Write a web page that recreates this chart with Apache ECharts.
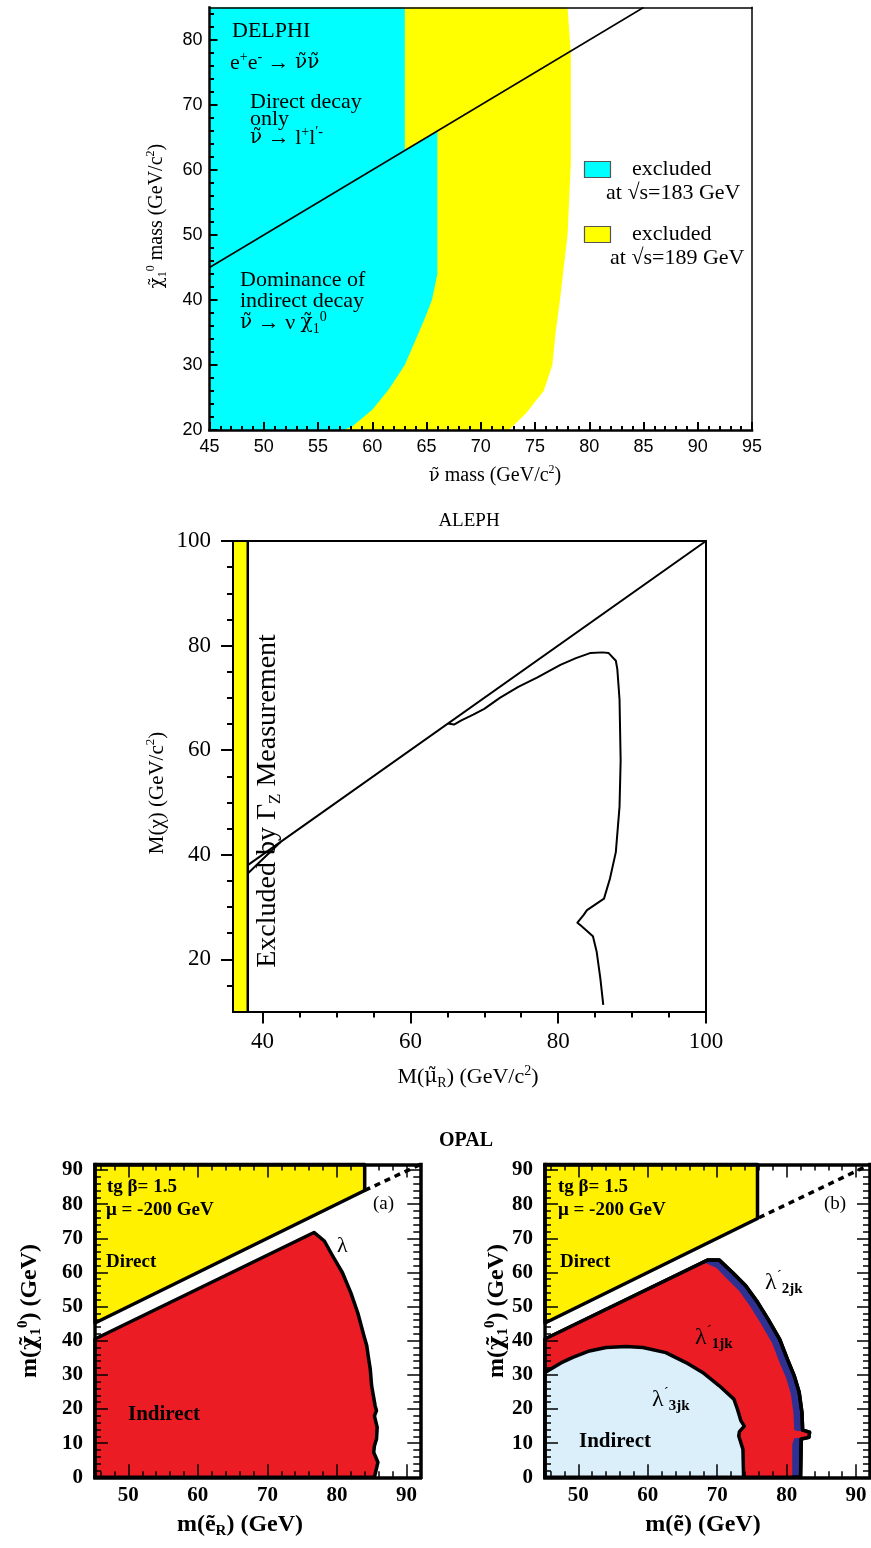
<!DOCTYPE html>
<html><head><meta charset="utf-8">
<script src="https://cdn.jsdelivr.net/npm/echarts@6/dist/echarts.min.js"></script>
<style>html,body{margin:0;padding:0;background:#fff}#c{width:871px;height:1548px}</style>
</head><body><div id="c"></div>
<script>
// ================= DATA =================
// --- DELPHI panel ---
const delphiXLabels = [45,50,55,60,65,70,75,80,85,90,95];
const delphiXMinor = [46,47,48,49,51,52,53,54,56,57,58,59,61,62,63,64,66,67,68,69,71,72,73,74,76,77,78,79,81,82,83,84,86,87,88,89,91,92,93,94];
const delphiYLabels = [20,30,40,50,60,70,80];
const delphiYMinor = [22,24,26,28,32,34,36,38,42,44,46,48,52,54,56,58,62,64,66,68,72,74,76,78,82,84];
const delphiDiagonal = [[45,45],[85,85]];
const delphiExcl183 = [[45,20],[45,85],[63,85],[63,63],[66,66],[66,44],[65.5,40],[64.8,37],[63,30],[61.5,26.2],[60,23.1],[58.2,20.6],[57.4,20]];
const delphiExcl189 = [[45,20],[45,85],[78,85],[78.3,78],[78.3,61],[78,50],[77.3,40],[76.9,35],[76.6,30],[75.8,26],[74.9,24.1],[74.2,22.6],[72.6,20]];

// --- ALEPH panel ---
const alephXLabels = [40,60,80,100];
const alephXMinor = [45,50,55,65,70,75,85,90,95];
const alephYLabels = [20,40,60,80,100];
const alephYMinor = [15,25,30,35,45,50,55,65,70,75,85,90,95];
const alephGammaZBand = [[36,10],[38,10],[38,100],[36,100]];
const alephBandEdge = [[38,10],[38,100]];
const alephDiagonal = [[38,38],[100,100]];
const alephLowerEdge = [[38,36.4],[42.4,42.4]];
const alephContour = [[65.1,65.1],[65.9,64.9],[66.9,65.7],[68.5,66.8],[70.0,67.9],[72.1,70.0],[74.6,72.1],[77.2,73.9],[80.3,76.3],[82.4,77.6],[84.4,78.6],[86.0,78.7],[86.8,78.6],[87.8,77.1],[88.0,75.5],[88.3,69.7],[88.45,58.0],[88.3,49.2],[87.8,40.5],[87.0,35.4],[86.2,31.6],[83.9,29.4],[83.4,28.4],[82.6,27.0],[82.4,26.8],[83.1,26.4],[84.7,24.4],[85.2,21.5],[85.7,16.4],[86.1,11.3]];

// --- OPAL panels ---
const opalXLabels = [50,60,70,80,90];
const opalXMinor = [46,48,52,54,56,58,62,64,66,68,72,74,76,78,82,84,86,88];
const opalYLabels = [0,10,20,30,40,50,60,70,80,90];
const opalYMinor = [2,4,6,8,12,14,16,18,22,24,26,28,32,34,36,38,42,44,46,48,52,54,56,58,62,64,66,68,72,74,76,78,82,84,86,88];
// (a) lambda
const opalADirect = [[45.2,45.2],[84,84],[84,91.6],[45.2,91.6]];
const opalADashed = [[84,84],[92,91.6]];
const opalAIndirect = [[45.2,0],[45.2,40.5],[76.7,71.7],[78.2,69.2],[79.4,64.8],[80.8,59.9],[82.0,54.1],[83.0,48.2],[83.9,41.4],[84.3,38.5],[84.5,35.6],[84.8,31.7],[85.0,26.8],[85.5,21.0],[85.7,19.5],[85.4,18.0],[85.8,14.6],[85.7,11.2],[85.4,9.2],[85.3,7.3],[85.9,4.4],[85.4,0]];
// (b) lambda'
const opalBDirect = [[45.2,45.2],[75.8,75.8],[75.8,91.6],[45.2,91.6]];
const opalBDashed = [[76,76],[92,91.6]];
const opalB2jk = [[45.2,0],[45.2,40.5],[67.5,62.5],[68.6,63.6],[70.3,63.6],[72.2,60.0],[74.1,56.1],[75.8,51.3],[77.3,46.4],[79.0,40.4],[80.1,34.6],[81.1,29.7],[81.8,24.9],[82.2,19.0],[82.3,13.8],[83.3,13.2],[83.2,11.7],[82.1,11.2],[82.0,0]];
const opalB1jk = [[45.2,0],[45.2,40.5],[67.5,62.5],[68.4,62.7],[69.9,61.3],[71.35,58.2],[73.2,54.5],[74.8,49.9],[76.25,45.1],[77.9,39.3],[78.96,33.7],[79.95,28.9],[80.6,24.4],[80.98,18.8],[81.08,14.0],[81.3,13.6],[83.3,13.2],[83.2,11.7],[81.1,11.4],[80.8,9.7],[80.8,0]];
const opalB3jk = [[45.2,0],[45.2,30.7],[47.5,33.5],[49.2,35.1],[51.6,37.0],[54.0,38.0],[56.9,38.3],[59.3,38.0],[62.6,36.5],[65.5,33.6],[67.9,30.7],[70.3,26.8],[72.4,22.9],[72.9,20.0],[73.4,16.6],[73.9,15.0],[73.2,13.4],[73.1,12.1],[73.7,8.2],[73.8,0]];

// ================= STYLE =================
const SERIF = "'Liberation Serif','Times New Roman',serif";
const SANS = "'Liberation Sans',Arial,sans-serif";
const DJ = "'DejaVu Serif',serif";
const C_CYAN = '#00FFFF', C_YEL = '#FFFF00', O_YEL = '#FFF100', O_RED = '#EC1C24', O_BLUE = '#2E3192', O_LBLUE = '#DAEFFA';

function ax(o) {
  return {
    type: 'value', gridIndex: o.g, position: o.pos, min: o.min, max: o.max, z: 10, silent: true,
    axisLine: { show: o.lw > 0, onZero: false, lineStyle: { color: '#000', width: o.lw || 1, cap: 'square' } },
    axisTick: { show: !!o.ticks, inside: !!o.inside, length: o.tl || 5, customValues: o.ticks || [],
                lineStyle: { color: '#000', width: o.tw || 1 } },
    axisLabel: { show: !!o.labels, customValues: o.labels || [], margin: o.margin || 8, color: '#000',
                 fontFamily: o.ff || SERIF, fontSize: o.fs || 14, fontWeight: o.fw || 'normal',
                 formatter: v => String(v) },
    minorTick: { show: false }, splitLine: { show: false }, minorSplitLine: { show: false },
    axisPointer: { show: false }
  };
}

const grids = [
  { left: 209.5, top: 7.5, width: 542.5, height: 422.5 },     // DELPHI
  { left: 233, top: 541, width: 473, height: 470.6 },         // ALEPH
  { left: 95, top: 1164.5, width: 325.3, height: 312.8 },     // OPAL a
  { left: 545, top: 1164.5, width: 325, height: 312.8 }       // OPAL b
].map(g => Object.assign({ show: false, containLabel: false, outerBoundsMode: 'none' }, g));

const xAxes = [], yAxes = [];
function panel(g, xr, yr, cfg) {
  const xi = xAxes.length;
  xAxes.push(ax(Object.assign({ g, pos: 'bottom', min: xr[0], max: xr[1] }, cfg.xMain)));
  yAxes.push(ax(Object.assign({ g, pos: 'left', min: yr[0], max: yr[1] }, cfg.yMain)));
  xAxes.push(ax(Object.assign({ g, pos: 'bottom', min: xr[0], max: xr[1], lw: 0 }, cfg.xMinor)));
  yAxes.push(ax(Object.assign({ g, pos: 'left', min: yr[0], max: yr[1], lw: 0 }, cfg.yMinor)));
  xAxes.push(ax(Object.assign({ g, pos: 'top', min: xr[0], max: xr[1] }, cfg.xTop)));
  yAxes.push(ax(Object.assign({ g, pos: 'right', min: yr[0], max: yr[1] }, cfg.yRight)));
  xAxes.push(ax(Object.assign({ g, pos: 'top', min: xr[0], max: xr[1], lw: 0 }, cfg.xTopMinor || {})));
  yAxes.push(ax(Object.assign({ g, pos: 'right', min: yr[0], max: yr[1], lw: 0 }, cfg.yRightMinor || {})));
  return xi;
}

const iD = panel(0, [45, 95], [20, 85], {
  xMain: { lw: 2.5, ticks: delphiXLabels, labels: delphiXLabels, inside: true, tl: 8, tw: 2, ff: SANS, fs: 18, margin: 8 },
  yMain: { lw: 2.5, ticks: delphiYLabels, labels: delphiYLabels, inside: true, tl: 8, tw: 2, ff: SANS, fs: 18, margin: 7 },
  xMinor: { ticks: delphiXMinor, inside: true, tl: 4, tw: 2 },
  yMinor: { ticks: delphiYMinor, inside: true, tl: 4.5, tw: 2 },
  xTop: { lw: 1.5 }, yRight: { lw: 1.5 }
});
const iA = panel(1, [36, 100], [10, 100], {
  xMain: { lw: 2, ticks: alephXLabels, labels: alephXLabels, inside: false, tl: 12, tw: 2, ff: SERIF, fs: 23, margin: 19 },
  yMain: { lw: 2, ticks: alephYLabels, labels: alephYLabels, inside: false, tl: 12, tw: 2, ff: SERIF, fs: 23, margin: 22 },
  xMinor: { ticks: alephXMinor, inside: false, tl: 6, tw: 2 },
  yMinor: { ticks: alephYMinor, inside: false, tl: 6, tw: 2 },
  xTop: { lw: 2 }, yRight: { lw: 2 }
});
function opalCfg() {
  return {
    xMain: { lw: 3.5, ticks: opalXLabels, labels: opalXLabels, inside: true, tl: 13, tw: 1.5, ff: SERIF, fs: 21, fw: 'bold', margin: 8 },
    yMain: { lw: 3.5, ticks: opalYLabels, labels: opalYLabels, inside: true, tl: 13, tw: 1.5, ff: SERIF, fs: 21, fw: 'bold', margin: 12 },
    xMinor: { ticks: opalXMinor, inside: true, tl: 6, tw: 1.5 },
    yMinor: { ticks: opalYMinor, inside: true, tl: 6, tw: 1.5 },
    xTop: { lw: 3.5, ticks: opalXLabels, inside: true, tl: 13, tw: 1.5 },
    yRight: { lw: 3.5, ticks: opalYLabels, inside: true, tl: 13, tw: 1.5 },
    xTopMinor: { ticks: opalXMinor, inside: true, tl: 6, tw: 1.5 },
    yRightMinor: { ticks: opalYMinor, inside: true, tl: 7, tw: 1.5 }
  };
}
const iOa = panel(2, [45.2, 92], [0, 91.6], opalCfg());
const iOb = panel(3, [45.2, 92], [0, 91.6], opalCfg());

function poly(ai, pts, style, z) {
  return {
    type: 'custom', xAxisIndex: ai, yAxisIndex: ai, data: pts, z: z, silent: true, clip: false,
    encode: { x: 0, y: 1 },
    renderItem: (params, api) => {
      if (params.dataIndex !== 0) return null;
      return { type: 'polygon', shape: { points: pts.map(p => api.coord(p)) }, style: style };
    }
  };
}
function line(ai, pts, w, z, type) {
  return {
    type: 'line', xAxisIndex: ai, yAxisIndex: ai, data: pts, symbol: 'none', showSymbol: false, z: z,
    silent: true, clip: true, lineStyle: { color: '#000', width: w, type: type || 'solid', join: 'round', cap: 'butt' }
  };
}
const OL = { stroke: '#000', lineWidth: 3.5, lineJoin: 'round' };

const series = [
  // DELPHI
  poly(iD, delphiExcl189, { fill: C_YEL }, 2),
  poly(iD, delphiExcl183, { fill: C_CYAN }, 3),
  line(iD, delphiDiagonal, 1.5, 4),
  // ALEPH
  poly(iA, alephGammaZBand, { fill: C_YEL }, 2),
  line(iA, alephBandEdge, 2.5, 4),
  line(iA, alephDiagonal, 2, 4),
  line(iA, alephLowerEdge, 2, 4),
  line(iA, alephContour, 2, 4),
  // OPAL a
  poly(iOa, opalADirect, Object.assign({ fill: O_YEL }, OL), 2),
  poly(iOa, opalAIndirect, Object.assign({ fill: O_RED }, OL), 2),
  line(iOa, opalADashed, 3.5, 3, [6, 5]),
  // OPAL b
  poly(iOb, opalB2jk, Object.assign({ fill: O_BLUE }, OL), 2),
  poly(iOb, opalB1jk, { fill: O_RED }, 3),
  poly(iOb, opalB2jk, Object.assign({ fill: 'none' }, OL), 4),
  poly(iOb, opalB3jk, Object.assign({ fill: O_LBLUE }, OL), 5),
  poly(iOb, opalBDirect, Object.assign({ fill: O_YEL }, OL), 5),
  line(iOb, opalBDashed, 3.5, 5, [6, 5])
];

// ================= TEXT ANNOTATIONS =================
function T(x, y, text, o) {
  o = o || {};
  const fs = o.fs || 20, fw = o.fw || 'normal', ff = o.ff || SERIF;
  const ss = o.ss || Math.round(fs * 0.62);
  return {
    type: 'text', x: x, y: y, rotation: o.rot || 0, z: 100, silent: true,
    style: {
      text: text, fill: '#000', fontSize: fs, fontWeight: fw, fontFamily: ff,
      align: o.align || 'left', verticalAlign: 'middle', lineHeight: fs + 4,
      rich: {
        sup: { fontSize: ss, fontWeight: fw, fontFamily: ff, verticalAlign: 'top', lineHeight: ss, fill: '#000' },
        sub: { fontSize: ss, fontWeight: o.subFw || fw, fontFamily: ff, verticalAlign: 'bottom', lineHeight: ss, fill: '#000' },
        g: { fontSize: fs - 2, fontWeight: fw, fontFamily: DJ, lineHeight: fs + 4, fill: '#000' }
      }
    }
  };
}
const R90 = Math.PI / 2;
const NU = '{g|\u03BD\u0303}', CHI = '{g|\u03C7\u0303}';
const graphics = [
  // DELPHI
  T(232, 31, 'DELPHI', { fs: 22 }),
  T(230, 63, 'e{sup|+}e{sup|-} \u2192 ' + NU + NU, { fs: 22 }),
  T(250, 102, 'Direct decay', { fs: 22 }),
  T(250, 119, 'only', { fs: 22 }),
  T(250, 138, NU + ' \u2192 l{sup|+}l{sup|\u2032-}', { fs: 22 }),
  T(240, 280, 'Dominance of', { fs: 22 }),
  T(240, 301, 'indirect decay', { fs: 22 }),
  T(240, 323, NU + ' \u2192 \u03BD ' + CHI + '{sub|1}{sup|0}', { fs: 22 }),
  { type: 'rect', z: 100, silent: true, shape: { x: 584.5, y: 161.5, width: 26, height: 16 }, style: { fill: C_CYAN, stroke: '#555', lineWidth: 1.2 } },
  T(632, 169, 'excluded', { fs: 22 }),
  T(606, 193, 'at \u221As=183 GeV', { fs: 22 }),
  { type: 'rect', z: 100, silent: true, shape: { x: 584.5, y: 226.5, width: 26, height: 16 }, style: { fill: C_YEL, stroke: '#555', lineWidth: 1.2 } },
  T(632, 234, 'excluded', { fs: 22 }),
  T(610, 258, 'at \u221As=189 GeV', { fs: 22 }),
  T(495, 476, NU + ' mass (GeV/c{sup|2})', { fs: 20, align: 'center' }),
  T(157, 216, CHI + '{sub|1}{sup|0} mass (GeV/c{sup|2})', { fs: 20, align: 'center', rot: R90 }),
  // ALEPH
  T(469, 521, 'ALEPH', { fs: 19, align: 'center' }),
  T(468, 1077, 'M({g|\u03BC\u0303}{sub|R}) (GeV/c{sup|2})', { fs: 22, align: 'center' }),
  T(157, 793, 'M(\u03C7) (GeV/c{sup|2})', { fs: 21, align: 'center', rot: R90 }),
  T(268, 801, 'Excluded by \u0393{sub|Z} Measurement', { fs: 28, align: 'center', rot: R90, ss: 17 }),
  // OPAL
  T(466, 1141, 'OPAL', { fs: 20, fw: 'bold', align: 'center' }),
  // (a)
  T(107, 1187, 'tg \u03B2= 1.5', { fs: 19, fw: 'bold' }),
  T(106, 1210, '\u03BC = -200 GeV', { fs: 19, fw: 'bold' }),
  T(106, 1262, 'Direct', { fs: 19, fw: 'bold' }),
  T(128, 1415, 'Indirect', { fs: 21, fw: 'bold' }),
  T(337, 1246, '\u03BB', { fs: 22 }),
  T(373, 1204, '(a)', { fs: 19 }),
  T(240, 1525, 'm(e\u0303{sub|R}) (GeV)', { fs: 24, fw: 'bold', align: 'center' }),
  T(30, 1311, 'm(' + CHI + '{sub|1}{sup|0}) (GeV)', { fs: 24, fw: 'bold', align: 'center', rot: R90 }),
  // (b)
  T(558, 1187, 'tg \u03B2= 1.5', { fs: 19, fw: 'bold' }),
  T(558, 1210, '\u03BC = -200 GeV', { fs: 19, fw: 'bold' }),
  T(560, 1262, 'Direct', { fs: 19, fw: 'bold' }),
  T(579, 1442, 'Indirect', { fs: 21, fw: 'bold' }),
  T(765, 1283, '\u03BB{sup|\u00B4}{sub|2jk}', { fs: 24, ss: 15, subFw: 'bold' }),
  T(695, 1338, '\u03BB{sup|\u00B4}{sub|1jk}', { fs: 24, ss: 15, subFw: 'bold' }),
  T(652, 1400, '\u03BB{sup|\u00B4}{sub|3jk}', { fs: 24, ss: 15, subFw: 'bold' }),
  T(824, 1204, '(b)', { fs: 19 }),
  T(703, 1525, 'm(e\u0303) (GeV)', { fs: 24, fw: 'bold', align: 'center' }),
  T(497, 1311, 'm(' + CHI + '{sub|1}{sup|0}) (GeV)', { fs: 24, fw: 'bold', align: 'center', rot: R90 })
];

const chart = echarts.init(document.getElementById('c'), null, { renderer: 'canvas' });
chart.setOption({
  animation: false,
  backgroundColor: '#fff',
  grid: grids,
  xAxis: xAxes,
  yAxis: yAxes,
  series: series,
  graphic: { elements: graphics }
});
</script>
</body></html>
